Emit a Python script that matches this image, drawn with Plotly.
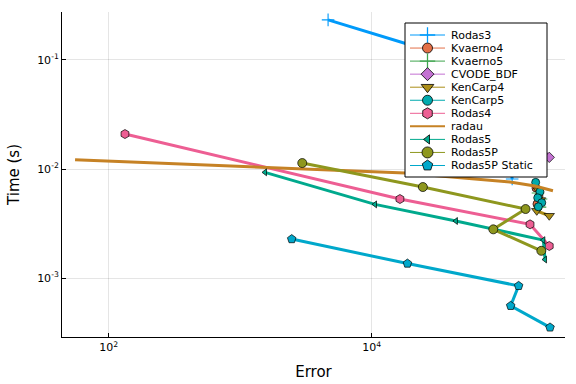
import plotly.graph_objects as go

# ---------------- data ----------------
names = ["Rodas3", "Kvaerno4", "Kvaerno5", "CVODE_BDF", "KenCarp4", "KenCarp5",
         "Rodas4", "radau", "Rodas5", "Rodas5P", "Rodas5P Static"]

rodas3_err = [4660, 33000, 103000, 117000]
rodas3_time = [0.233, 0.1136, 0.043, 0.0081]

kvaerno4_err = [177500, 187000, 180600]
kvaerno4_time = [0.0067, 0.00565, 0.00478]

kvaerno5_err = [184000, 194000, 190500]
kvaerno5_time = [0.00603, 0.00531, 0.00448]

cvode_err = [56100, 123000, 224000]
cvode_time = [0.1, 0.0348, 0.0128]

kencarp4_err = [185000, 192000, 180000, 224000]
kencarp4_time = [0.0064, 0.0052, 0.00414, 0.00373]

kencarp5_err = [176600, 190400, 183000, 196500, 185000]
kencarp5_time = [0.00755, 0.00619, 0.00545, 0.00491, 0.00451]

rodas4_err = [133, 16400, 160000, 224000]
rodas4_time = [0.02094, 0.00531, 0.00311, 0.00197]

radau_err = [55.5, 17900, 112700, 174600, 239000]
radau_time = [0.01216, 0.00918, 0.0076, 0.00698, 0.00632]

rodas5_err = [1545, 10600, 43700, 202000, 208000]
rodas5_time = [0.00933, 0.00474, 0.00334, 0.00223, 0.00148]

rodas5p_err = [2965, 24500, 148000, 84100, 195000]
rodas5p_time = [0.01135, 0.00684, 0.0043, 0.0028, 0.00178]

rodas5ps_err = [2465, 18700, 131000, 114000, 227000]
rodas5ps_time = [0.00228, 0.00136, 0.000849, 0.000557, 0.000353]

x_tickvals = [1e2, 1e4]
x_ticktext = ["10<sup>2</sup>", "10<sup>4</sup>"]
y_tickvals = [1e-3, 1e-2, 1e-1]
y_ticktext = ["10<sup>-3</sup>", "10<sup>-2</sup>", "10<sup>-1</sup>"]

# ---------------- styles ----------------
colors = ["#009AFA", "#E36F47", "#3EA44E", "#C371D2", "#AC8E18", "#00AAAE",
          "#ED5E93", "#C68225", "#00A98D", "#8E971E", "#00A8CB"]
symbols = ["cross-thin", "circle", "cross-thin", "diamond", "triangle-down", "circle",
           "hexagon", None, "triangle-left", "circle", "pentagon"]
msizes = [9, 8, 9, 8, 9, 8, 9, 0, 6, 9, 9]

series = [
    (rodas3_err, rodas3_time), (kvaerno4_err, kvaerno4_time), (kvaerno5_err, kvaerno5_time),
    (cvode_err, cvode_time), (kencarp4_err, kencarp4_time), (kencarp5_err, kencarp5_time),
    (rodas4_err, rodas4_time), (radau_err, radau_time), (rodas5_err, rodas5_time),
    (rodas5p_err, rodas5p_time), (rodas5ps_err, rodas5ps_time),
]

FONT = "DejaVu Sans"
fig = go.Figure()

def marker_dict(i, size, lw):
    sym = symbols[i]
    if sym == "cross-thin":
        w = [v * 1.6 for v in lw] if isinstance(lw, list) else lw * 1.6
        return dict(symbol=sym, size=size, color=colors[i], opacity=1,
                    line=dict(color=colors[i], width=w))
    return dict(symbol=sym, size=size, color=colors[i], opacity=1,
                line=dict(color="black", width=lw))

for i, (xs, ys) in enumerate(series):
    if symbols[i] is None:
        fig.add_trace(go.Scatter(x=xs, y=ys, mode="lines", name=names[i],
                                 line=dict(color=colors[i], width=3), showlegend=False))
    else:
        fig.add_trace(go.Scatter(x=xs, y=ys, mode="lines+markers", name=names[i],
                                 line=dict(color=colors[i], width=3),
                                 marker=marker_dict(i, msizes[i], 0.7),
                                 showlegend=False))

# ---------------- custom legend on an overlay axis measured in pixels ----------------
PL, PR, PT, PB = 62, 565, 12, 337
LEG_L, LEG_R, LEG_T, LEG_B = 405, 547, 23, 177
ROW0, ROWSTEP = 35, 13.05
LX0, LX1, TX = 410, 445, 449

fig.add_trace(go.Scatter(x=[LEG_L, LEG_R, LEG_R, LEG_L, LEG_L],
                         y=[LEG_T, LEG_T, LEG_B, LEG_B, LEG_T],
                         xaxis="x2", yaxis="y2", mode="lines", fill="toself",
                         fillcolor="white", line=dict(color="black", width=1),
                         showlegend=False, hoverinfo="skip"))

annotations = []
for i, nm in enumerate(names):
    yy = ROW0 + ROWSTEP * i
    xm = (LX0 + LX1) / 2
    if symbols[i] is None:
        fig.add_trace(go.Scatter(x=[LX0, LX1], y=[yy, yy], xaxis="x2", yaxis="y2",
                                 mode="lines", line=dict(color=colors[i], width=2),
                                 showlegend=False, hoverinfo="skip"))
    else:
        fig.add_trace(go.Scatter(x=[LX0, xm, LX1], y=[yy, yy, yy], xaxis="x2", yaxis="y2",
                                 mode="lines+markers", line=dict(color=colors[i], width=1),
                                 marker=marker_dict(i, [0, msizes[i] + 2, 0], [0, 0.8, 0]),
                                 showlegend=False, hoverinfo="skip"))
    annotations.append(dict(x=TX, y=yy, xref="x2", yref="y2", text=nm, showarrow=False,
                            xanchor="left", yanchor="middle",
                            font=dict(family=FONT, size=11, color="black")))

axis_common = dict(type="log", showline=True, linecolor="black", linewidth=1,
                   ticks="inside", ticklen=4, tickcolor="black", mirror=False,
                   showgrid=True, gridcolor="rgba(0,0,0,0.1)", gridwidth=1,
                   zeroline=False, automargin=False,
                   tickfont=dict(family=FONT, size=11, color="black"))

fig.update_layout(
    width=576, height=384,
    margin=dict(l=PL, r=576 - PR, t=PT, b=384 - PB),
    paper_bgcolor="white", plot_bgcolor="white",
    font=dict(family=FONT, color="black"),
    xaxis=dict(axis_common, range=[1.645, 5.47], tickmode="array",
               tickvals=x_tickvals, ticktext=x_ticktext,
               title=dict(text="Error", font=dict(family=FONT, size=15), standoff=13)),
    yaxis=dict(axis_common, range=[-3.54, -0.56], tickmode="array",
               tickvals=y_tickvals, ticktext=y_ticktext,
               title=dict(text="Time (s)", font=dict(family=FONT, size=15), standoff=13)),
    xaxis2=dict(overlaying="x", range=[PL, PR], visible=False, fixedrange=True),
    yaxis2=dict(overlaying="y", range=[PB, PT], visible=False, fixedrange=True),
    annotations=annotations,
    showlegend=False,
)

fig.write_html("out.html", config={"displayModeBar": False},
               post_script="document.body.style.margin='0';")
